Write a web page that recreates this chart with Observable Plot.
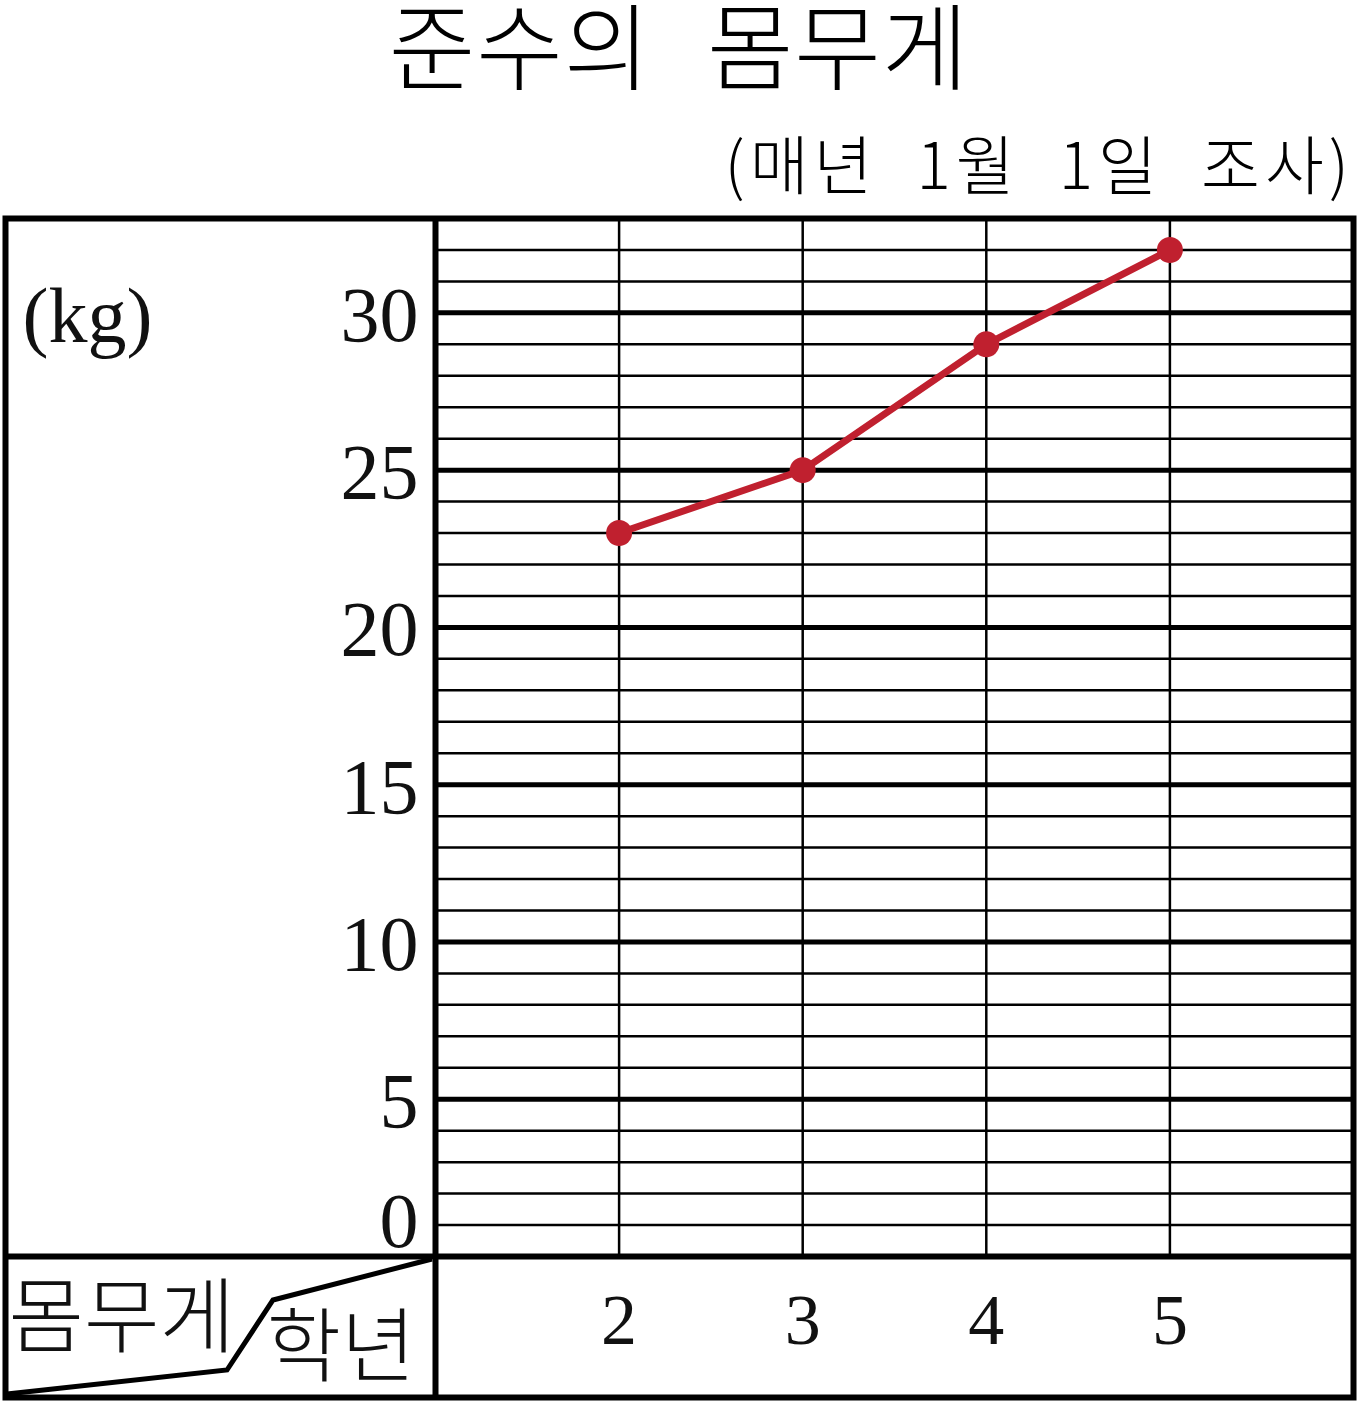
<!DOCTYPE html>
<html>
<head>
<meta charset="utf-8">
<script src="https://cdn.jsdelivr.net/npm/d3@7"></script>
<script src="https://cdn.jsdelivr.net/npm/@observablehq/plot@0.6"></script>
<style>
  html, body { margin: 0; padding: 0; background: #fff; }
  #wrap { position: relative; width: 1358px; height: 1402px; overflow: hidden; }
  #title { position: absolute; left: 0; top: 0; width: 1358px; height: 84px; line-height: 84px;
    text-align: center; font-family: "Noto Sans CJK KR", sans-serif; font-weight: 300; font-size: 94px; letter-spacing: 1px; word-spacing: 34px; color: #000; }
  #subtitle { position: absolute; right: 4px; top: 116px; height: 90px; line-height: 90px;
    font-family: "Noto Sans CJK KR", sans-serif; font-weight: 300; font-size: 64px; letter-spacing: 5px; word-spacing: 20px; color: #000; white-space: nowrap; }
  #chart { position: absolute; left: 0; top: 210px; }
</style>
</head>
<body>
<div id="wrap">
  <div id="title">준수의 몸무게</div>
  <div id="subtitle">(매년 1월 1일 조사)</div>
  <div id="chart"></div>
</div>
<script>
// ---- data ----
const grades = [2, 3, 4, 5];
const weights = [23, 25, 29, 32];
const yTickValues = [0, 5, 10, 15, 20, 25, 30];
const xTickLabels = ["2", "3", "4", "5"];
const unitLabel = "(kg)";
const rowHeader = "몸무게";
const colHeader = "학년";

const data = grades.map((g, i) => ({grade: g, weight: weights[i]}));
const minorY = d3.range(1, 34).filter(d => d % 5 !== 0);
const majorY = yTickValues.filter(d => d > 0);

const serif = "'Liberation Serif', 'Times New Roman', serif";
const kor = "'Noto Sans CJK KR', sans-serif";
const red = "#C0202F";

const W = 1358, H = 1192;
const plot = Plot.plot({
  width: W,
  height: H,
  marginLeft: 435,
  marginRight: 5,
  marginTop: 8,
  marginBottom: 146,
  x: {domain: [1, 6], axis: null},
  y: {domain: [0, 33], axis: null},
  style: {background: "transparent", overflow: "visible"},
  marks: [
    Plot.ruleY(minorY, {stroke: "#000", strokeWidth: 2.5}),
    Plot.ruleX(grades, {stroke: "#000", strokeWidth: 2.5}),
    Plot.ruleY(majorY, {stroke: "#000", strokeWidth: 5}),
    Plot.ruleY([0], {stroke: "#000", strokeWidth: 6, insetLeft: -430}),
    Plot.ruleX([1], {stroke: "#000", strokeWidth: 6, insetBottom: -141}),
    Plot.frame({stroke: "#000", strokeWidth: 6, insetLeft: -430, insetBottom: -141}),
    // y labels
    Plot.text(majorY, {y: d => d, text: d => String(d), frameAnchor: "left", textAnchor: "end", lineAnchor: "middle", dx: -17, dy: 3,
      fontSize: 78, fontFamily: serif, fill: "#111"}),
    Plot.text([0], {y: d => d, text: d => String(d), frameAnchor: "left", textAnchor: "end", lineAnchor: "middle", dx: -17, dy: -34,
      fontSize: 78, fontFamily: serif, fill: "#111"}),
    Plot.text([unitLabel], {text: d => d, frameAnchor: "top-left", textAnchor: "start", lineAnchor: "middle", dx: -413, dy: 99,
      fontSize: 78, fontFamily: serif, fill: "#111"}),
    // x labels
    Plot.text(grades, {x: d => d, text: (d, i) => xTickLabels[i], frameAnchor: "bottom", lineAnchor: "middle", dy: 64,
      fontSize: 72, fontFamily: serif, fill: "#111"}),
    // header cell
    Plot.text([rowHeader], {text: d => d, frameAnchor: "bottom-left", textAnchor: "start", lineAnchor: "middle", dx: -427, dy: 63,
      fontSize: 82, fontWeight: 300, fontFamily: kor, fill: "#111", letterSpacing: -4}),
    Plot.text([colHeader], {text: d => d, frameAnchor: "bottom-left", textAnchor: "start", lineAnchor: "middle", dx: -169, dy: 93,
      fontSize: 81, fontWeight: 300, fontFamily: kor, fill: "#111", letterSpacing: -4}),
    // data
    Plot.line(data, {x: "grade", y: "weight", stroke: red, strokeWidth: 7}),
    Plot.dot(data, {x: "grade", y: "weight", r: 13, fill: red, stroke: "none"})
  ]
});

// diagonal divider of header cell
d3.select(plot).append("path")
  .attr("d", "M7,1184 L227,1160 L273,1090 L432,1049")
  .attr("fill", "none")
  .attr("stroke", "#000")
  .attr("stroke-width", 5)
  .attr("stroke-linejoin", "miter");

document.getElementById("chart").appendChild(plot);
</script>
</body>
</html>
